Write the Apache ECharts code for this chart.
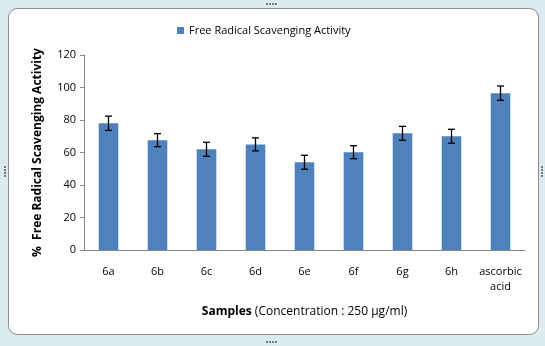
<!DOCTYPE html>
<html>
<head>
<meta charset="utf-8">
<script src="https://cdn.jsdelivr.net/npm/echarts@6/dist/echarts.min.js"></script>
<style>html,body{margin:0;padding:0;background:#fff}#c{width:545px;height:346px}</style>
</head>
<body>
<div id="c"></div>
<script>
const categories = ['6a', '6b', '6c', '6d', '6e', '6f', '6g', '6h', 'ascorbic\nacid'];
const values = [78.0, 67.6, 62.0, 65.0, 54.0, 60.2, 71.8, 70.0, 96.5];
const errors = [4.4, 4.0, 4.3, 4.0, 4.3, 4.0, 4.3, 4.3, 4.4];
const yTicks = [0, 20, 40, 60, 80, 100, 120];
const seriesName = 'Free Radical Scavenging Activity';

const FONT = 'Open Sans';
const chart = echarts.init(document.getElementById('c'), null, {renderer: 'canvas'});
const dots = [];
[[266,3],[266,341]].forEach(([x,y]) => { for (let k = 0; k < 4; k++) dots.push({type: 'rect', shape: {x: x + 3*k, y: y, width: 2, height: 2}, style: {fill: '#7a7a7a'}}); });
[[4,166],[541,166]].forEach(([x,y]) => { for (let k = 0; k < 4; k++) dots.push({type: 'rect', shape: {x: x, y: y + 3*k, width: 2, height: 2}, style: {fill: '#7a7a7a'}}); });
const option = {
  animation: false,
  backgroundColor: '#dcecee',
  graphic: [
    {type: 'rect', z: -10, shape: {x: 8.5, y: 8.5, width: 530, height: 326, r: 9},
     style: {fill: '#ffffff', stroke: '#8c8c8c', lineWidth: 1}},
    {type: 'group', children: dots}
  ],
  legend: {
    top: 20, left: 172,
    itemWidth: 7, itemHeight: 7, itemGap: 5,
    icon: 'rect',
    data: [seriesName],
    textStyle: {fontFamily: FONT, fontSize: 11, color: '#000'}
  },
  grid: {left: 84, right: 20, top: 55, bottom: 96, containLabel: false},
  xAxis: {
    type: 'category',
    data: categories,
    axisLine: {lineStyle: {color: '#868686', width: 1}},
    axisTick: {show: false},
    axisLabel: {color: '#000', fontFamily: FONT, fontSize: 11, margin: 14, lineHeight: 15, interval: 0},
    name: '{b|Samples} (Concentration : 250 µg/ml)',
    nameLocation: 'middle',
    nameGap: 56,
    nameTextStyle: {
      color: '#000', fontFamily: FONT, fontSize: 12,
      rich: {b: {fontWeight: 'bold', fontFamily: FONT, fontSize: 12, color: '#000'}}
    }
  },
  yAxis: {
    type: 'value',
    min: 0, max: 120, interval: 20,
    axisLine: {show: true, lineStyle: {color: '#868686', width: 1}},
    axisTick: {show: true, length: 4, lineStyle: {color: '#868686'}},
    splitLine: {show: false},
    axisLabel: {color: '#000', fontFamily: FONT, fontSize: 11, margin: 8,
      formatter: v => yTicks.includes(v) ? String(v) : ''},
    name: '%  Free Radical Scavenging Activity',
    nameLocation: 'middle',
    nameGap: 40,
    nameTextStyle: {color: '#000', fontFamily: FONT, fontSize: 12, fontWeight: 'bold'}
  },
  series: [
    {
      name: seriesName,
      type: 'bar',
      data: values,
      barWidth: '40%',
      itemStyle: {color: '#4f81bd'}
    },
    {
      type: 'custom',
      name: 'err',
      data: values.map((v, i) => [i, v - errors[i], v + errors[i]]),
      z: 10,
      renderItem: function (params, api) {
        const x = api.value(0);
        const lo = api.coord([x, api.value(1)]);
        const hi = api.coord([x, api.value(2)]);
        const half = 3.5;
        const style = {stroke: '#000', lineWidth: 1.3, fill: null};
        return {
          type: 'group',
          children: [
            {type: 'line', shape: {x1: lo[0], y1: lo[1], x2: hi[0], y2: hi[1]}, style},
            {type: 'line', shape: {x1: lo[0] - half, y1: lo[1], x2: lo[0] + half, y2: lo[1]}, style},
            {type: 'line', shape: {x1: hi[0] - half, y1: hi[1], x2: hi[0] + half, y2: hi[1]}, style}
          ]
        };
      },
      encode: {x: 0, y: [1, 2]}
    }
  ]
};
chart.setOption(option);
</script>
</body>
</html>
